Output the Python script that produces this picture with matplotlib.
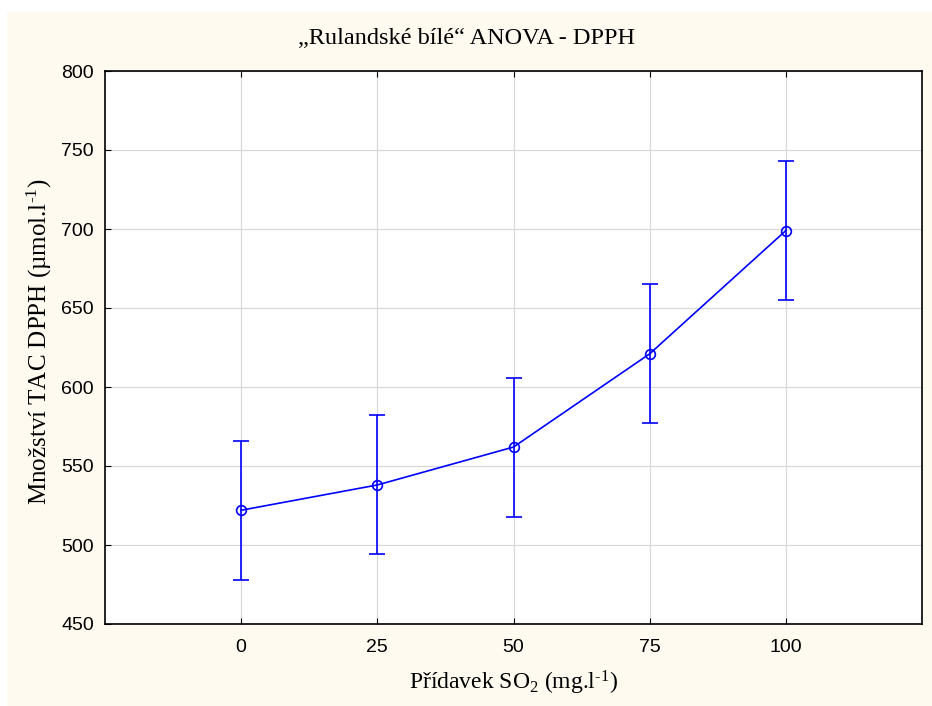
import numpy as np
import matplotlib.pyplot as plt
from matplotlib.patches import Rectangle

# SO2 dose and measured DPPH antioxidant capacity (means with confidence intervals)
so2 = [0, 25, 50, 75, 100]
dpph_mean = [522, 538, 562, 621, 699]
dpph_err = [44, 44, 44, 44, 44]

serif = 'Liberation Serif'
plt.rcParams['mathtext.fontset'] = 'custom'
plt.rcParams['mathtext.rm'] = serif
plt.rcParams['mathtext.it'] = serif + ':italic'

fig = plt.figure(figsize=(9.32, 7.06), dpi=100)
fig.patch.set_facecolor('white')
# cream page background
fig.patches.append(Rectangle((7 / 932, 0), 1, 694 / 706, transform=fig.transFigure,
                             facecolor='#fefaf0', edgecolor='none', zorder=-10))

ax = fig.add_axes([105 / 932, (706 - 624) / 706, (922 - 105) / 932, (624 - 71) / 706])
ax.set_facecolor('white')

ax.errorbar(so2, dpph_mean, yerr=dpph_err, color='#0000ff', lw=1.2, elinewidth=1.2,
            capsize=6, capthick=1.2, marker='o', ms=7, mfc='none', mec='#0000ff', mew=1.2)

ax.set_xlim(-25, 125)
ax.set_ylim(450, 800)
ax.set_xticks(so2)
ax.set_yticks(np.arange(450, 801, 50))
ax.grid(True, color='#d8d8d8', lw=0.9)
ax.set_axisbelow(True)
ax.tick_params(direction='in', length=4, top=True, right=False, labelsize=14)
ax.tick_params(axis='x', pad=11)
ax.tick_params(axis='y', pad=8)
for lab in ax.get_xticklabels() + ax.get_yticklabels():
    lab.set_family('Liberation Sans')
for s in ax.spines.values():
    s.set_linewidth(1.2)

fig.text(0.5, (706 - 38) / 706, '\u201eRulandsk\u00e9 b\u00edl\u00e9\u201c ANOVA - DPPH',
         ha='center', va='center', fontsize=17.5, family=serif)
ax.set_xlabel(r'P' '\u0159\u00ed' r'davek SO$_{\mathrm{2}}$ (mg.l$^{\text{-1}}$)',
              fontsize=17, family=serif, labelpad=9)
ax.set_ylabel('Mno\u017estv\u00ed TAC DPPH (\u00b5mol.l' r'$^{\text{-1}}$)',
              fontsize=18, family=serif)
ax.yaxis.set_label_coords(-51 / 817, 0.51)

fig.savefig('out.png', dpi=100)
